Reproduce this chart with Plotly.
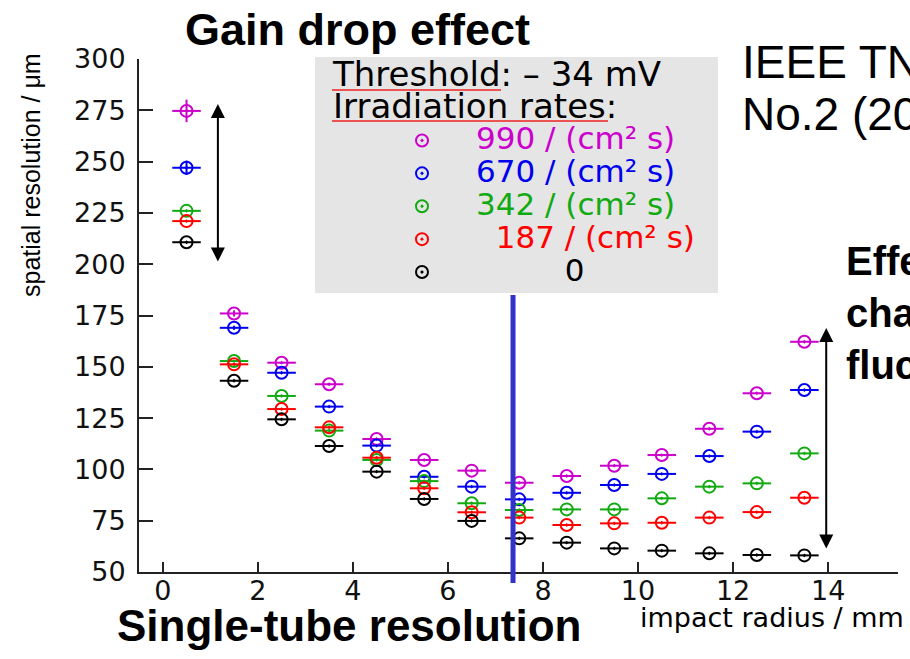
import plotly.graph_objects as go

# ---------------- data ----------------
impact_radius = [0.5, 1.5, 2.5, 3.5, 4.5, 5.5, 6.5, 7.5, 8.5, 9.5, 10.5, 11.5, 12.5, 13.5]
res_990 = [274.7, 176.0, 152.0, 141.5, 114.8, 104.6, 99.4, 93.5, 96.8, 101.8, 107.0, 119.8, 137.1, 162.2]
res_670 = [247.0, 169.0, 147.1, 130.6, 111.6, 96.4, 91.6, 85.4, 88.6, 92.4, 97.8, 106.5, 118.4, 138.7]
res_342 = [226.0, 152.8, 135.8, 118.9, 104.6, 94.3, 83.5, 80.2, 80.5, 80.5, 85.9, 91.6, 93.2, 107.8]
res_187 = [221.0, 151.2, 129.4, 120.5, 105.7, 90.8, 79.1, 76.5, 72.9, 73.7, 74.0, 76.5, 79.2, 86.2]
res_0 = [210.7, 143.2, 124.4, 111.4, 98.9, 85.6, 74.9, 66.4, 64.3, 61.5, 60.4, 59.1, 58.3, 58.1]
err_990 = [5.5, 1.5, 0, 0, 0, 0, 0, 0, 0, 0, 0, 0, 0, 0]
err_670 = [3.5, 1.0, 0, 0, 0, 0, 0, 0, 0, 0, 0, 0, 0, 0]
bin_half_width = 0.3

series_names = ["990 / (cm² s)", "670 / (cm² s)", "342 / (cm² s)", "187 / (cm² s)", "0"]
series_values = [res_990, res_670, res_342, res_187, res_0]
series_errors = [err_990, err_670, None, None, None]
series_colors = ["#cc00cc", "#0000ee", "#11aa11", "#ff0000", "#000000"]
name_pad = [0, 0, 0, 2, 9]   # non-breaking spaces used to indent legend labels

x_ticks = [0, 2, 4, 6, 8, 10, 12, 14]
y_ticks = [50, 75, 100, 125, 150, 175, 200, 225, 250, 275, 300]
threshold_line = 7.37

# ---------------- geometry helpers ----------------
W, H = 910, 659
L, R, T, B = 139, 12, 59, 87
PW, PH = W - L - R, H - T - B


def px(x):
    return (x - L) / PW


def py(y):
    return (H - B - y) / PH


TICKFONT = "DejaVu Sans"
fig = go.Figure()

for name, vals, errs, col, pad in zip(series_names, series_values, series_errors,
                                      series_colors, name_pad):
    fig.add_trace(go.Scatter(
        x=impact_radius, y=vals, mode="markers",
        name=f"<span style='color:{col};font-size:31px'>" + "\u00a0" * pad + f"{name}</span>",
        marker=dict(symbol="circle-open-dot", size=12, color=col,
                    line=dict(width=2, color=col)),
        error_x=dict(type="constant", value=bin_half_width, width=0,
                     thickness=2, color=col),
        error_y=(dict(type="data", array=errs, width=0, thickness=2, color=col)
                 if errs is not None else None),
    ))

axis_common = dict(showline=True, linewidth=2, linecolor="#222222",
                   ticks="inside", tickwidth=2, tickcolor="#222222",
                   showgrid=False, zeroline=False,
                   tickfont=dict(family=TICKFONT, size=27, color="#111111"))

fig.update_xaxes(range=[-0.5, 15.47], tickvals=x_ticks, ticklen=10,
                 ticklabelstandoff=-6, **axis_common)
fig.update_yaxes(range=[50, 300], tickvals=y_ticks, ticklen=14,
                 ticklabelstandoff=6, **axis_common)

shapes = [
    # legend panel
    dict(type="rect", xref="paper", yref="paper", x0=px(315), x1=px(718),
         y0=py(293), y1=py(57), fillcolor="#e5e5e5", line=dict(width=0),
         layer="below"),
    # threshold line
    dict(type="line", xref="x", yref="paper", x0=threshold_line, x1=threshold_line,
         y0=py(583), y1=py(295), line=dict(color="#3333cc", width=5)),
    # red underlines
    dict(type="line", xref="paper", yref="paper", x0=px(332), x1=px(501),
         y0=py(90), y1=py(90), line=dict(color="#ee2222", width=1.5)),
    dict(type="line", xref="paper", yref="paper", x0=px(332), x1=px(608),
         y0=py(121), y1=py(121), line=dict(color="#ee2222", width=1.5)),
]

annotations = []


def txt(text, x, y, size, family="Liberation Sans", bold=False, xanchor="left",
        color="#000000", angle=0, align="center"):
    annotations.append(dict(
        text=f"<b>{text}</b>" if bold else text, xref="paper", yref="paper",
        x=px(x), y=py(y), xanchor=xanchor, yanchor="middle", showarrow=False,
        textangle=angle, align=align,
        font=dict(family=family, size=size, color=color)))


txt("Gain drop effect", 183, 30, 45, bold=True)
txt("IEEE TN", 740, 62, 46)
txt("No.2 (20", 740, 114, 46)
txt("Effe", 844, 261, 40, bold=True)
txt("cha", 844, 313, 40, bold=True)
txt("fluc", 844, 365, 40, bold=True)
txt("Single-tube resolution", 115, 626, 44, bold=True)
txt("impact radius / mm", 906, 618, 27, family=TICKFONT, xanchor="right")
txt("spatial resolution / μm", 31, 175, 25, angle=-90, xanchor="center")
# legend header (two lines, tight line spacing)
txt("<span style='font-size:34px'>Threshold: – 34 mV</span><br>"
    "<span style='font-size:34px'>Irradiation rates:</span>",
    330, 90, 24.5, family=TICKFONT, align="left")

# arrows
for (xa, ya, xb, yb) in [(1.16, 278.1, 1.16, 200.6), (13.96, 168.9, 13.96, 60.7)]:
    annotations.append(dict(
        x=xa, y=ya, ax=xb, ay=yb, xref="x", yref="y", axref="x", ayref="y",
        text="", showarrow=True, arrowhead=2, arrowside="end+start",
        arrowsize=1.4, arrowwidth=2, arrowcolor="#000000"))

fig.update_layout(
    width=W, height=H, autosize=False,
    margin=dict(l=L, r=R, t=T, b=B, pad=0),
    paper_bgcolor="white", plot_bgcolor="white",
    shapes=shapes, annotations=annotations,
    showlegend=True,
    legend=dict(x=px(368), y=py(119), xanchor="left", yanchor="top",
                bgcolor="rgba(0,0,0,0)", borderwidth=0,
                font=dict(family=TICKFONT, size=23, color="#000000"),
                itemwidth=98),
)

fig.write_html("out.html")
